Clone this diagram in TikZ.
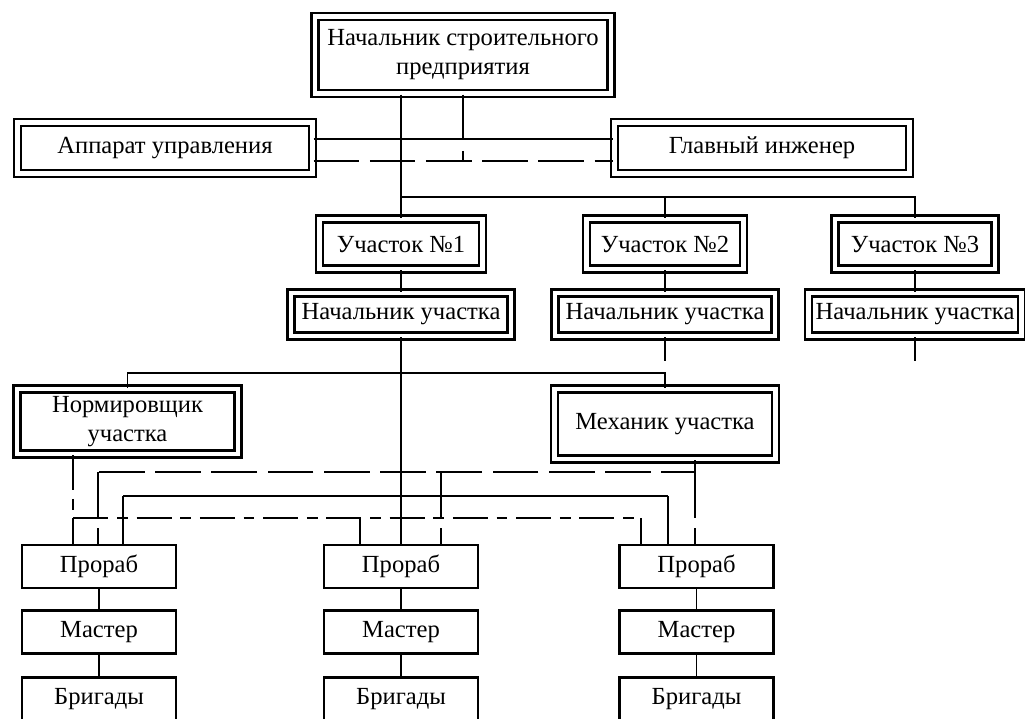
\documentclass[tikz,border=0pt]{standalone}
\usepackage{fontspec}
\setmainfont{Liberation Serif}

\begin{document}
\begin{tikzpicture}[x=0.02cm, y=-0.02cm,
    every node/.style={font=\fontsize{14}{16.5}\selectfont, inner sep=0pt, align=center},
    dbox/.style={draw, double, double distance=2.8pt, line width=1.2pt},
    sbox/.style={draw, line width=1.2pt, minimum width=3.08cm, minimum height=0.86cm},
    main/.style={line width=1.6pt},
    link/.style={line width=1pt},
    ctrl/.style={line width=1.4pt, dash pattern=on 26pt off 6pt},
    normline/.style={line width=1pt, dash pattern=on 20pt off 5pt on 6pt off 5pt}]
  \useasboundingbox (0,0) rectangle (1025,718);

  \node[dbox, minimum width=5.92cm, minimum height=1.54cm] (boss) at (463,55) {Начальник строительного\\предприятия};
  \node[dbox, minimum width=5.9cm, minimum height=1.03cm] (upr) at (165,148) {Аппарат управления};
  \node[dbox, minimum width=5.9cm, minimum height=1.03cm] (glav) at (762,148) {Главный инженер};

  \node[dbox, minimum width=3.27cm, minimum height=1cm] (uch1) at (401,244) {Участок №1};
  \node[dbox, minimum width=3.14cm, minimum height=1cm] (uch2) at (665,244) {Участок №2};
  \node[dbox, minimum width=3.2cm, minimum height=1cm] (uch3) at (915,244) {Участок №3};

  \node[dbox, minimum width=4.4cm, minimum height=0.86cm] (nach1) at (401,314.5) {Начальник участка};
  \node[dbox, minimum width=4.4cm, minimum height=0.86cm] (nach2) at (665,314.5) {Начальник участка};
  \node[dbox, minimum width=4.26cm, minimum height=0.86cm] (nach3) at (915,314.5) {Начальник участка};

  \node[dbox, minimum width=4.42cm, minimum height=1.3cm] (norm) at (127.5,421.5) {Нормировщик\\участка};
  \node[dbox, minimum width=4.42cm, minimum height=1.4cm] (mech) at (665,424) {Механик участка};

  \foreach \i/\x in {1/99, 2/401, 3/696.5} {
    \node[sbox] (prorab\i) at (\x,566.5) {Прораб};
    \node[sbox] (master\i) at (\x,632) {Мастер};
    \node[sbox] (brig\i) at (\x,699) {Бригады};
  }

  \coordinate (gs) at ([yshift=0.18cm]glav.west);
  \coordinate (gd) at ([yshift=-0.26cm]glav.west);
  \coordinate (bus1) at (401,197);
  \coordinate (bus2) at (401,373);
  \coordinate (n1) at (73,518);
  \coordinate (n3) at (360,518);
  \coordinate (n2) at (641,518);
  \coordinate (m1) at (98,472);
  \coordinate (m2) at (441,472);
  \coordinate (m3) at (695,472);
  \coordinate (s1) at (123,496);
  \coordinate (s2) at (668,496);

  \draw[main] (boss.south -| uch1) -- (uch1);
  \draw[link] ([yshift=0.18cm]upr.east) -- (gs);
  \draw[ctrl] ([yshift=-0.26cm]upr.east) -- (gd);
  \draw[ctrl] (boss) -- (boss |- gd);

  \draw[link] (bus1) -| (uch2);
  \draw[link] (bus1) -| (uch3);
  \foreach \i/\s in {1/main, 2/link, 3/link}
    \draw[\s] (uch\i) -- (nach\i);
  \foreach \i in {2,3} {
    \coordinate (stub\i) at ([yshift=-0.47cm]nach\i.south);
    \draw[link] (nach\i) -- (stub\i);
  }

  \draw[main] (nach1) -- (prorab2);
  \draw[link] (bus2) -| (norm);
  \draw[link] (bus2) -| (mech);

  \draw[normline] (norm.south -| n1) -- (n1) -- (n2);
  \foreach \c/\p in {n1/prorab1, n3/prorab2, n2/prorab3}
    \draw[normline] (\c) -- (\p.north -| \c);

  \draw[ctrl] (mech.south -| m3) -- (m3) -- (m1);
  \foreach \c/\p in {m1/prorab1, m2/prorab2, m3/prorab3}
    \draw[ctrl] (\c) -- (\p.north -| \c);

  \draw[link] (s1) -- (s2);
  \foreach \c/\p in {s1/prorab1, s2/prorab3}
    \draw[link] (\c) -- (\p.north -| \c);

  \foreach \i/\s in {1/link, 2/main, 3/link}
    \draw[\s] (prorab\i) -- (master\i) -- (brig\i);
\end{tikzpicture}
\end{document}
